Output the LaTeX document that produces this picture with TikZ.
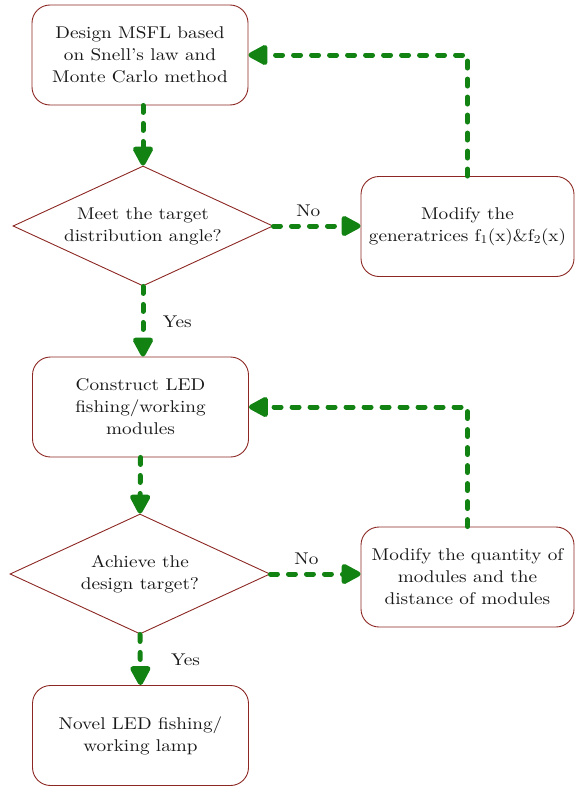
\documentclass[tikz,border=0pt]{standalone}
\usepackage{fontspec}
\setmainfont{lmroman10-regular.otf}[FakeStretch=1.13]
\usetikzlibrary{shapes.geometric,arrows.meta}
\definecolor{boxred}{RGB}{140,40,35}
\definecolor{flowgreen}{RGB}{18,130,18}
\tikzset{
  txt/.style={font=\fontsize{17}{22}\selectfont, align=center, text=black!90},
  procbox/.style={txt, draw=boxred, line width=0.9pt, rounded corners=18pt,
    minimum width=216pt, minimum height=100pt, inner sep=0pt},
  sidebox/.style={procbox, minimum width=213pt},
  decision/.style={txt, draw=boxred, line width=0.9pt, diamond, aspect=2.17,
    minimum width=260pt, minimum height=120pt, inner sep=0pt},
  flow/.style={draw=flowgreen, line width=5pt, line cap=round,
    dash pattern=on 7pt off 11pt,
    -{Triangle[length=22pt,width=22pt,round=false]}},
  lbl/.style={txt}
}
\begin{document}
\begin{tikzpicture}[x=1pt,y=-1pt]
  \useasboundingbox (0,0) rectangle (575,787);

  \node[procbox] (b1) at (140,55) {Design MSFL based\\on Snell’s law and\\Monte Carlo method};
  \node[decision] (d1) at (143,226) {Meet the target\\distribution angle?};
  \node[sidebox] (r1) at (467.5,226.5) {Modify the\\generatrices f\textsubscript{1}(x)\&f\textsubscript{2}(x)};
  \node[procbox] (b2) at (140.5,407) {Construct LED\\fishing/working\\modules};
  \node[decision] (d2) at (140,574) {Achieve the\\design target?};
  \node[sidebox] (r2) at (467.5,577) {Modify the quantity of\\modules and the\\distance of modules};
  \node[procbox] (b3) at (140.5,735.5) {Novel LED fishing/\\working lamp};

  \coordinate (c1) at (d1.north |- b1.south);
  \draw[flow] (c1) -- (d1.north);
  \draw[flow] (d1.east) -- node[lbl, above=3pt, pos=0.4] {No} (d1.east -| r1.west);
  \draw[flow] (r1.north) |- (b1.east);
  \coordinate (c2) at (d1.south |- b2.north);
  \draw[flow] (d1.south) -- node[lbl, right=14pt] {Yes} (c2);
  \coordinate (c3) at (b2.south);
  \draw[flow] (c3) -- (d2.north);
  \draw[flow] (d2.east) -- node[lbl, above=3pt, pos=0.4] {No} (d2.east -| r2.west);
  \draw[flow] (r2.north) |- (b2.east);
  \draw[flow] (d2.south) -- node[lbl, right=25pt] {Yes} (b3.north);
\end{tikzpicture}
\end{document}
